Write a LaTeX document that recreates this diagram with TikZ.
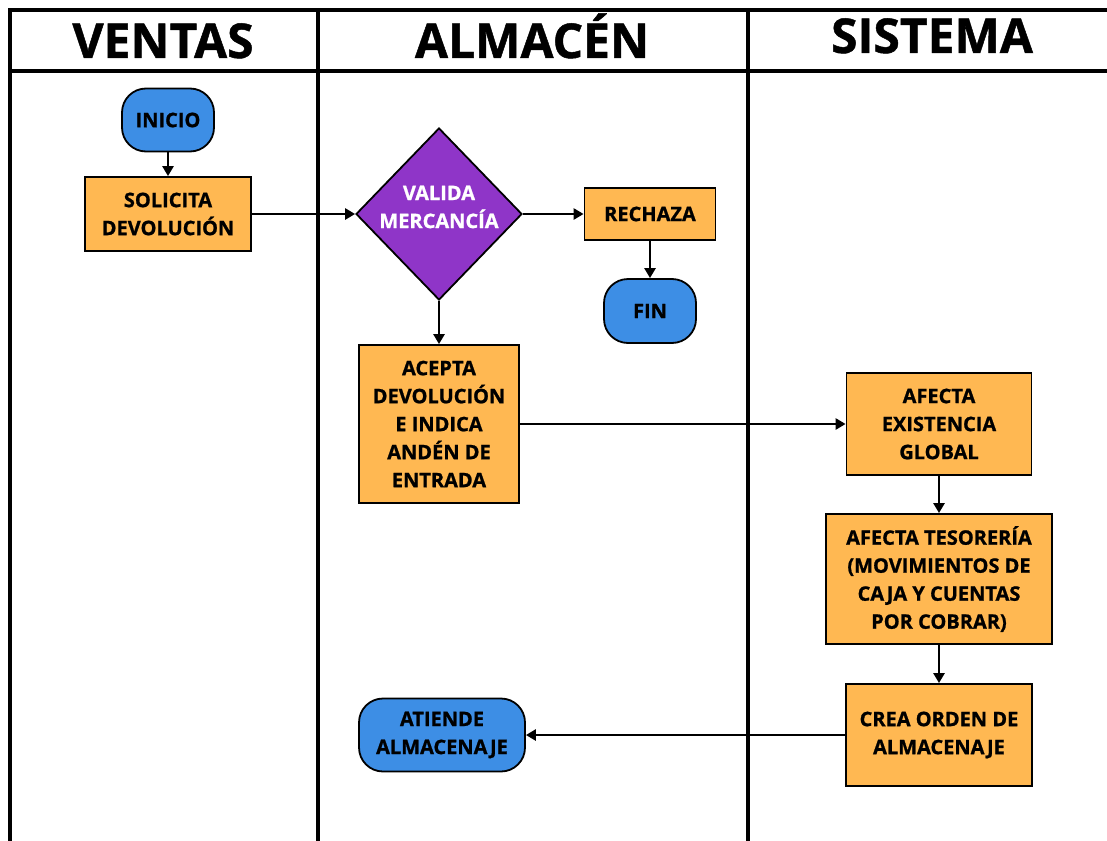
\documentclass[tikz,border=0pt]{standalone}
\usepackage{fontspec}
\setmainfont{Open Sans}[BoldFeatures={FakeBold=1}]
\usetikzlibrary{shapes.geometric,arrows.meta}
\definecolor{cblue}{HTML}{3D8EE5}
\definecolor{corange}{HTML}{FFB852}
\definecolor{cpurple}{HTML}{8F35C8}
\begin{document}
\begin{tikzpicture}[x=1pt,y=-1pt,
  lane/.style={line width=3.5pt, line cap=rect},
  proc/.style={draw=black, line width=1.8pt, fill=corange, inner sep=0pt, align=center, font=\bfseries\fontsize{20}{28}\selectfont},
  term/.style={proc, fill=cblue, rounded corners=24pt},
  arr/.style={line width=2.8pt, -{Triangle[length=10pt,width=11pt]}},
  head/.style={font=\bfseries\fontsize{48}{48}\selectfont, anchor=base, inner sep=0pt}
]
\useasboundingbox (0,0) rectangle (1107,840);
\fill[white] (0,0) rectangle (1107,840);
% swimlane frame
\coordinate (tl) at (10,10);
\coordinate (tr) at (1107,10);
\coordinate (bl) at (10,840);
\coordinate (hl) at (10,71);
\coordinate (hr) at (1107,71);
\coordinate (d1t) at (318,10);
\coordinate (d1b) at (318,840);
\coordinate (d2t) at (748,10);
\coordinate (d2b) at (748,840);
\draw[lane] (bl) -- (tl) -- (tr);
\draw[lane] (hl) -- (hr);
\draw[lane] (d1t) -- (d1b);
\draw[lane] (d2t) -- (d2b);
% headers
\node[head] (hv) at (163,58) {VENTAS};
\node[head] (ha) at (532,58) {ALMACÉN};
\node[head] (hs) at (932,53) {SISTEMA};
% nodes
\node[term, minimum width=92pt, minimum height=63pt] (ini) at (168,120) {INICIO};
\node[proc, minimum width=166pt, minimum height=74pt] (sol) at (168,214) {SOLICITA\\DEVOLUCIÓN};
\node[diamond, draw=black, line width=1.8pt, fill=cpurple, inner sep=0pt, minimum width=166pt, minimum height=172pt] (val) at (439,214) {};
\node[align=center, text=white, inner sep=0pt, font=\bfseries\fontsize{20}{28}\selectfont] (valt) at (439,207) {VALIDA\\MERCANCÍA};
\node[proc, minimum width=131pt, minimum height=52pt] (rec) at (650,214) {RECHAZA};
\node[term, minimum width=92pt, minimum height=64pt] (fin) at (650,311) {FIN};
\node[proc, minimum width=160pt, minimum height=158pt] (ace) at (439,424) {ACEPTA\\DEVOLUCIÓN\\E INDICA\\ANDÉN DE\\ENTRADA};
\node[proc, minimum width=185pt, minimum height=102pt] (afe) at (939,424) {AFECTA\\EXISTENCIA\\GLOBAL};
\node[proc, minimum width=226pt, minimum height=130pt] (tes) at (939,579) {AFECTA TESORERÍA\\(MOVIMIENTOS DE\\CAJA Y CUENTAS\\POR COBRAR)};
\node[proc, minimum width=186pt, minimum height=102pt] (cre) at (939,735) {CREA ORDEN DE\\ALMACENAJE};
\node[term, minimum width=166pt, minimum height=73pt] (ati) at (442,735) {ATIENDE\\ALMACENAJE};
% connectors
\draw[arr] (ini) -- (sol);
\draw[arr] (sol) -- (val.west);
\draw[arr] (val.east) -- (rec);
\draw[arr] (rec) -- (fin);
\draw[arr] (val.south) -- (ace);
\draw[arr] (ace) -- (afe);
\draw[arr] (afe) -- (tes);
\draw[arr] (tes) -- (cre);
\draw[arr] (cre) -- (ati);
\end{tikzpicture}
\end{document}
